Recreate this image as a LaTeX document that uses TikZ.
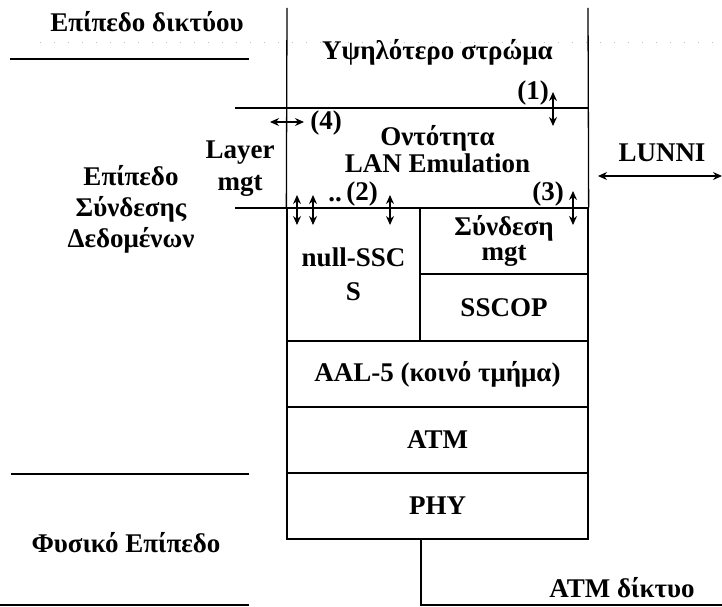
\documentclass[tikz,border=0pt]{standalone}
\usepackage{fontspec}
\setmainfont{Liberation Serif}
\usetikzlibrary{arrows.meta,positioning}

\begin{document}
\begin{tikzpicture}[x=1pt,y=-1pt,>={Stealth[length=9pt,width=8pt]},
  font=\fontsize{27}{30}\selectfont\bfseries,
  frame/.style={line width=1.3pt},
  box/.style={draw,line width=1.3pt,inner sep=0pt,align=center},
  txt/.style={inner sep=0pt,align=center},
  sap/.style={<->,line width=1.2pt}]
\useasboundingbox (0,0) rectangle (722,607);
% protocol stack
\node[box,minimum width=133pt,minimum height=133pt] (nullsscs) at (353.5,274.5) {null-SSC\\[4pt]S};
\node[box,minimum width=168pt,minimum height=66pt] (sconn) at (504,241) {Σύνδεση\\[-5pt]mgt};
\node[box,minimum width=168pt,minimum height=67pt] (sscop) at (504,307.5) {SSCOP};
\node[box,minimum width=301pt,minimum height=66pt] (aal) at (437.5,374) {AAL-5 (κοινό τμήμα)};
\node[box,minimum width=301pt,minimum height=66pt] (atm) at (437.5,440) {ATM};
\node[box,minimum width=301pt,minimum height=66pt] (phy) at (437.5,506) {PHY};
\node[txt] (upper) at (437.5,52) {Υψηλότερο στρώμα};
\node[txt] (lane) at (437.5,149) {Οντότητα\\[-3pt]LAN Emulation};
% frame of the upper layers
\coordinate (topL) at (287,8);
\coordinate (topR) at (588,8);
\coordinate (mgtA) at (235,108);
\coordinate (mgtB) at (235,208);
\draw[frame] (topL) -- (nullsscs.north west);
\draw[frame] (topR) -- (sconn.north east);
\draw[frame] (mgtA) -- (mgtA -| topR);
\draw[frame] (mgtB) -- (mgtB -| topR);
% physical link
\coordinate (drop) at (421,539);
\coordinate (net) at (722,605);
\draw[frame] (drop) |- (net);
\node[txt] (atmnet) at (622,588) {ATM δίκτυο};
% plane labels on the left
\draw[gray!50,line width=0.8pt,dash pattern=on 1pt off 13pt] (40,42) -- (722,42);
\foreach \y/\x in {59/10,474/11,605/0}
  \draw[frame] (\x,\y) -- (249,\y);
\node[txt] (netpl) at (147,22) {Επίπεδο δικτύου};
\node[txt] (dll) at (131,209) {Επίπεδο\\[1pt]Σύνδεσης\\[1pt]Δεδομένων};
\node[txt] (phys) at (126,543) {Φυσικό Επίπεδο};
\node[txt] (lmgt) at (240,169) {Layer\\[2pt]mgt};
% service access points
\coordinate (p1a) at (553,92);  \coordinate (p1b) at (553,126);
\draw[sap] (p1a) -- (p1b);
\node[txt] (l1) at (533,93) {(1)};
\coordinate (p3a) at (573,191); \coordinate (p3b) at (573,225);
\draw[sap] (p3a) -- (p3b);
\node[txt] (l3) at (548,194) {(3)};
\foreach \x [count=\i] in {297,313,390} {
  \coordinate (p2a\i) at (\x,195);
  \coordinate (p2b\i) at (\x,225);
  \draw[sap] (p2a\i) -- (p2b\i);
}
\node[txt] (dots) at (335,200) {..};
\node[txt] (l2) at (362,194) {(2)};
\coordinate (p4a) at (270,122); \coordinate (p4b) at (304,122);
\draw[sap] (p4a) -- (p4b);
\node[txt] (l4) at (326,123) {(4)};
\coordinate (luA) at (598,176); \coordinate (luB) at (722,176);
\draw[sap] (luA) -- (luB);
\node[txt] (lunni) at (662,153) {LUNNI};
\end{tikzpicture}
\end{document}
